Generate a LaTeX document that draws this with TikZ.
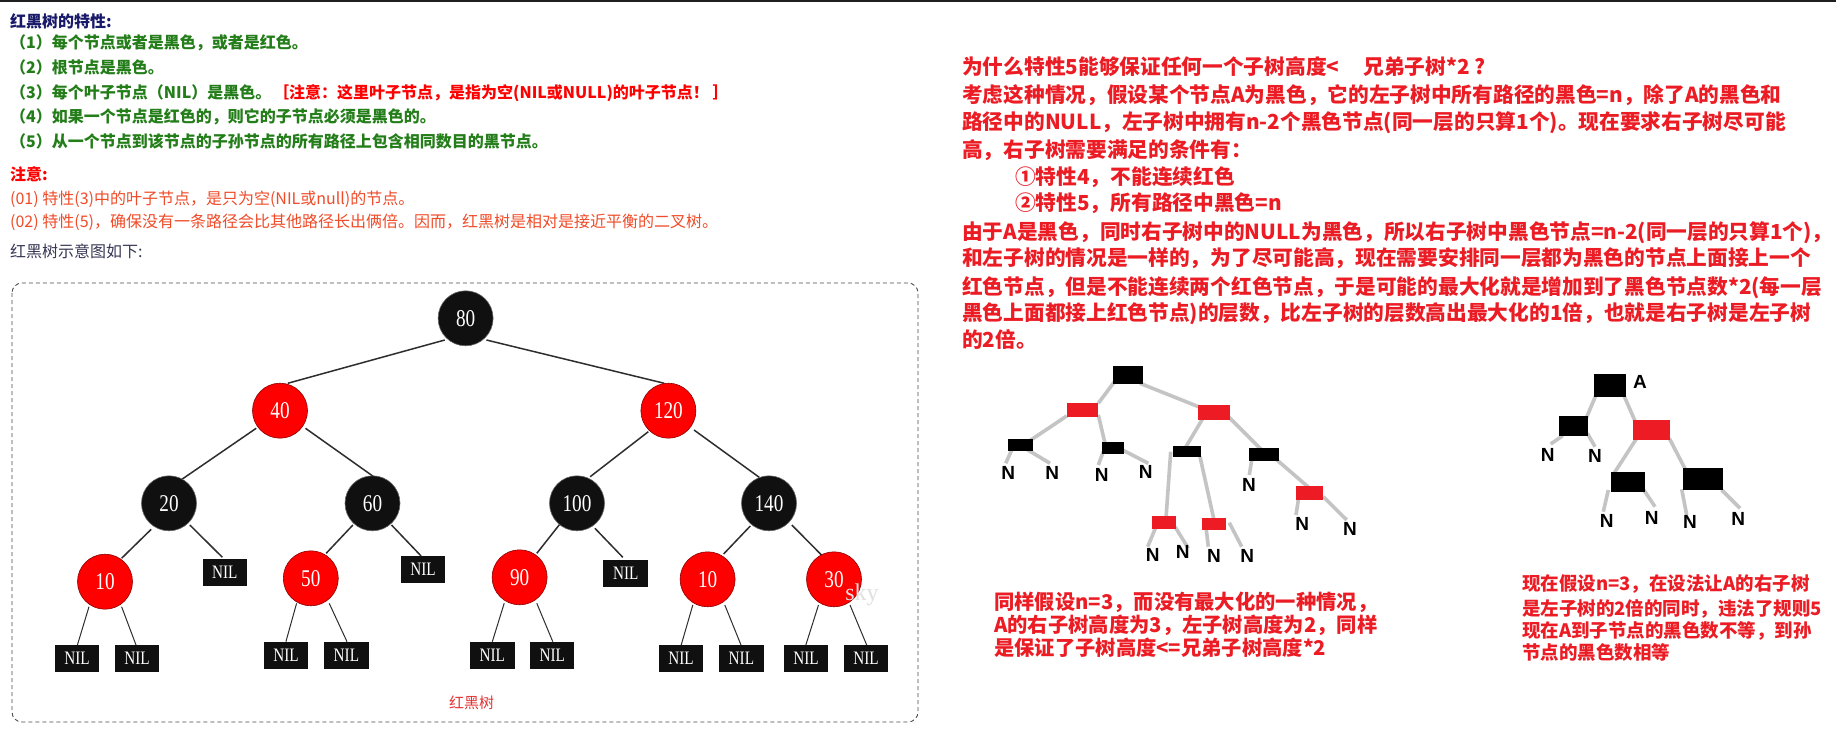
\documentclass[tikz,border=0pt]{standalone}
\usepackage{fontspec}
\usetikzlibrary{calc,backgrounds}
\newfontfamily\cjk{Noto Sans CJK SC}
\newfontfamily\serifnum{Liberation Serif}
\newfontfamily\arialf{Liberation Sans}
\definecolor{tnavy}{RGB}{25,25,105}
\definecolor{tgreen}{RGB}{35,125,25}
\definecolor{tred}{RGB}{255,0,0}
\definecolor{torange}{RGB}{240,75,40}
\definecolor{tgray}{RGB}{55,55,85}
\definecolor{rtred}{RGB}{235,28,36}
\definecolor{nodered}{RGB}{255,0,0}
\definecolor{nodeblack}{RGB}{16,16,16}
\definecolor{edgegray}{RGB}{196,196,196}
\definecolor{boxred}{RGB}{237,28,36}
\definecolor{labred}{RGB}{228,50,50}
\newcommand\sqz[1]{\scalebox{0.8}[1]{#1}}
\newcommand\ted[5][]{\draw[tedge,#1] ($(#2)+(#3)$) -- ($(#4)+(#5)$);}
\newcommand\ged[4]{\draw[gedge] ($(#1)+(#2)$) -- ($(#3)+(#4)$);}
\tikzset{
  ltxt/.style={anchor=base west, inner sep=0pt, font=\cjk\fontsize{16}{18}\selectfont},
  lbtxt/.style={anchor=base west, inner sep=0pt, font=\cjk\bfseries\fontsize{16}{18}\selectfont},
  rtxt/.style={anchor=base west, inner sep=0pt, text=rtred, font=\cjk\bfseries\fontsize{20.7}{24}\selectfont},
  bltxt/.style={anchor=base west, inner sep=0pt, text=rtred, font=\cjk\bfseries\fontsize{20.3}{24}\selectfont},
  brtxt/.style={anchor=base west, inner sep=0pt, text=rtred, font=\cjk\bfseries\fontsize{18.5}{22}\selectfont},
  rbc/.style={circle, minimum size=55pt, inner sep=0pt, text=white, font=\serifnum\fontsize{24}{24}\selectfont},
  rc/.style={rbc, fill=nodered, draw=red!55!black, line width=0.6pt},
  bc/.style={rbc, fill=nodeblack, draw=black!60, line width=0.6pt},
  nil/.style={rectangle, minimum width=44.5pt, minimum height=27pt, inner sep=0pt, fill=nodeblack, text=white, font=\serifnum\fontsize{19}{19}\selectfont},
  tedge/.style={draw=black!82, line width=1.5pt},
  thin/.style={line width=1pt},
  sbox/.style={rectangle, inner sep=0pt, fill=black},
  srbox/.style={rectangle, inner sep=0pt, fill=boxred},
  nlab/.style={inner sep=0pt, font=\arialf\bfseries\fontsize{19}{19}\selectfont},
  gedge/.style={draw=edgegray, line width=3.6pt},
}
\begin{document}
\begin{tikzpicture}[x=1pt,y=-1pt]
\useasboundingbox (0,0) rectangle (1836,751);
\begin{scope}[on background layer]
\fill[white] (0,0) rectangle (1836,751);
\end{scope}
\fill[black!88] (0,0) rectangle (1836,1.6);

% ---------- left texts ----------
\node[lbtxt, text=tnavy] (t0) at (10,27.4) {红黑树的特性:};
\node[lbtxt, text=tgreen] (t1) at (10,49) {（1）每个节点或者是黑色，或者是红色。};
\node[lbtxt, text=tgreen] (t2) at (10,74) {（2）根节点是黑色。};
\node[lbtxt, text=tgreen] (t3) at (10,99) {（3）每个叶子节点（NIL）是黑色。};
\node[lbtxt, text=tred] (t3b) at (273,99) {［注意：这里叶子节点，是指为空(NIL或NULL)的叶子节点！ ］};
\node[lbtxt, text=tgreen] (t4) at (10,122.4) {（4）如果一个节点是红色的，则它的子节点必须是黑色的。};
\node[lbtxt, text=tgreen] (t5) at (10,147.4) {（5）从一个节点到该节点的子孙节点的所有路径上包含相同数目的黑节点。};
\node[lbtxt, text=tred] (t6) at (10,180.6) {注意:};
\node[ltxt, text=torange] (t7) at (10,204.7) {(01) 特性(3)中的叶子节点，是只为空(NIL或null)的节点。};
\node[ltxt, text=torange] (t8) at (10,227.7) {(02) 特性(5)，确保没有一条路径会比其他路径长出俩倍。因而，红黑树是相对是接近平衡的二叉树。};
\node[ltxt, text=tgray] (t9) at (10,257.7) {红黑树示意图如下:};

% ---------- left tree ----------
\draw[black!70, dashed, dash pattern=on 4pt off 3pt, line width=0.9pt, rounded corners=10pt] (12,283) rectangle (918,722);
\node[bc] (c80) at (465.6,318.3) {\sqz{80}};
\node[rc] (c40) at (280,410.7) {\sqz{40}};
\node[rc] (c120) at (668.4,410.7) {\sqz{120}};
\node[bc] (c20) at (169,503.3) {\sqz{20}};
\node[bc] (c60) at (372.5,503.3) {\sqz{60}};
\node[bc] (c100) at (577,503.3) {\sqz{100}};
\node[bc] (c140) at (769,503.3) {\sqz{140}};
\node[rc] (c10) at (105,581.7) {\sqz{10}};
\node[nil] (nA) at (224.8,572.7) {\sqz{NIL}};
\node[rc] (c50) at (310.8,578.3) {\sqz{50}};
\node[nil] (nB) at (423,569) {\sqz{NIL}};
\node[rc] (c90) at (519.6,577.3) {\sqz{90}};
\node[nil] (nC) at (625.7,573.3) {\sqz{NIL}};
\node[rc] (c10b) at (707.6,579.3) {\sqz{10}};
\node[rc] (c30) at (834,579.3) {\sqz{30}};
\node[nil] (b1) at (77,658.3) {\sqz{NIL}};
\node[nil] (b2) at (137,658.3) {\sqz{NIL}};
\node[nil] (b3) at (286,655) {\sqz{NIL}};
\node[nil] (b4) at (346.4,655) {\sqz{NIL}};
\node[nil] (b5) at (492.3,655) {\sqz{NIL}};
\node[nil] (b6) at (552.2,655) {\sqz{NIL}};
\node[nil] (b7) at (681,658.3) {\sqz{NIL}};
\node[nil] (b8) at (741.4,658.3) {\sqz{NIL}};
\node[nil] (b9) at (806,658.3) {\sqz{NIL}};
\node[nil] (b10) at (866,658.3) {\sqz{NIL}};
\node[text=black!12, font=\serifnum\fontsize{24}{24}\selectfont, inner sep=0pt] (sky) at (862,595) {sky};
\node[text=labred, font=\cjk\fontsize{15}{18}\selectfont, inner sep=0pt] (lab) at (471.5,703.3) {红黑树};

\begin{scope}[on background layer]
\ted{c80}{-20.8,21.7}{c40}{7.7,-27.4}
\ted{c80}{20.8,21.7}{c120}{-4.1,-27.4}
\ted{c40}{-23.8,17.6}{c20}{11.9,-23.3}
\ted{c40}{25.5,17.6}{c60}{1.2,-26.6}
\ted{c120}{-20.1,21}{c100}{13.2,-26.6}
\ted{c120}{25.6,19.3}{c140}{-9.8,-26}
\ted{c20}{-17.8,26}{c10}{16.6,-23.4}
\ted{c20}{20.8,21.7}{nA}{-2.4,-15.4}
\ted{c60}{-19.6,21.7}{c50}{15.4,-25}
\ted{c60}{19,21.7}{nB}{-1.9,-13}
\ted{c100}{-16.5,20}{c90}{17.2,-24}
\ted{c100}{17.9,25}{nC}{-2.9,-16}
\ted{c140}{-18.7,22.7}{c10b}{16,-25.3}
\ted{c140}{22.8,21.7}{c30}{-12.5,-24.3}
\ted[thin]{c10}{-16,25}{b1}{0.1,-12.3}
\ted[thin]{c10}{16.6,25}{b2}{-0.6,-12.3}
\ted[thin]{c50}{-14.2,25}{b3}{-0.1,-13.3}
\ted[thin]{c50}{18.4,25}{b4}{0.6,-13.3}
\ted[thin]{c90}{-15.4,26}{b5}{0,-13.3}
\ted[thin]{c90}{17.2,26}{b6}{0.6,-13.3}
\ted[thin]{c10b}{-14.8,25.7}{b7}{-0.1,-12.3}
\ted[thin]{c10b}{17.2,25.7}{b8}{0,-12.3}
\ted[thin]{c30}{-15.5,25.7}{b9}{-0.5,-12.3}
\ted[thin]{c30}{16,25.7}{b10}{1.1,-12.3}
\end{scope}

% ---------- right texts ----------
\node[rtxt] (r1) at (962,74.3) {为什么特性5能够保证任何一个子树高度<\hspace{24pt}兄弟子树*2 ?};
\node[rtxt] (r2) at (962,102.6) {考虑这种情况，假设某个节点A为黑色，它的左子树中所有路径的黑色=n，除了A的黑色和};
\node[rtxt] (r3) at (962,129.3) {路径中的NULL，左子树中拥有n-2个黑色节点(同一层的只算1个)。现在要求右子树尽可能};
\node[rtxt] (r4) at (962,157.6) {高，右子树需要满足的条件有：};
\node[rtxt] (r5) at (1015,184.3) {①特性4，不能连续红色};
\node[rtxt] (r6) at (1015,210.6) {②特性5，所有路径中黑色=n};
\node[rtxt] (r7) at (962,239.3) {由于A是黑色，同时右子树中的NULL为黑色，所以右子树中黑色节点=n-2(同一层的只算1个)，};
\node[rtxt] (r8) at (962,265.9) {和左子树的情况是一样的，为了尽可能高，现在需要安排同一层都为黑色的节点上面接上一个};
\node[rtxt] (r9) at (962,294.3) {红色节点，但是不能连续两个红色节点，于是可能的最大化就是增加到了黑色节点数*2(每一层};
\node[rtxt] (r10) at (962,320.9) {黑色上面都接上红色节点)的层数，比左子树的层数高出最大化的1倍，也就是右子树是左子树};
\node[rtxt] (r11) at (962,347.6) {的2倍。};

% ---------- small tree 1 ----------
\node[sbox, minimum width=29.4pt, minimum height=18pt] (t1r) at (1128,375) {};
\node[srbox, minimum width=31.6pt, minimum height=13.4pt] (t1a) at (1082.5,410) {};
\node[srbox, minimum width=31.7pt, minimum height=15pt] (t1b) at (1214.2,412.5) {};
\node[sbox, minimum width=25pt, minimum height=11.7pt] (t1c) at (1020.2,445.2) {};
\node[sbox, minimum width=22pt, minimum height=12.3pt] (t1d) at (1113.3,447.8) {};
\node[sbox, minimum width=27.4pt, minimum height=11.3pt] (t1e) at (1187,451.7) {};
\node[sbox, minimum width=30.3pt, minimum height=12.4pt] (t1f) at (1263.8,454.5) {};
\node[srbox, minimum width=23.7pt, minimum height=13pt] (t1g) at (1163.8,522.5) {};
\node[srbox, minimum width=23.7pt, minimum height=12.3pt] (t1h) at (1213.8,523.8) {};
\node[srbox, minimum width=27.3pt, minimum height=14pt] (t1i) at (1309.7,493) {};
\node[nlab] (n1) at (1008.3,472.7) {N};
\node[nlab] (n2) at (1052.3,473.3) {N};
\node[nlab] (n3) at (1101.7,475.3) {N};
\node[nlab] (n4) at (1145.7,472) {N};
\node[nlab] (n5) at (1249,484.7) {N};
\node[nlab] (n6) at (1302.3,524) {N};
\node[nlab] (n7) at (1350,528.7) {N};
\node[nlab] (n8) at (1152.7,555) {N};
\node[nlab] (n9) at (1182.7,552) {N};
\node[nlab] (n10) at (1214,555.7) {N};
\node[nlab] (n11) at (1247.3,555.7) {N};
\begin{scope}[on background layer]
\ged{t1r}{-12.3,5}{t1a}{15.8,-6.7}
\ged{t1r}{12,8.3}{t1b}{-9.2,-3.2}
\ged{t1a}{-15.8,6}{t1c}{8.1,-3.5}
\ged{t1a}{15.8,5}{t1d}{-8.3,-4.5}
\ged{t1c}{-8.5,4.8}{n1}{-2.6,-9.4}
\ged{t1c}{6.5,4.1}{n2}{-2.3,-10}
\ged{t1d}{-10,3.9}{n3}{-3.4,-10.3}
\ged{t1d}{6,0.5}{n4}{2.6,-8.7}
\ged{t1b}{-9.9,3.5}{t1e}{-2,-3.4}
\ged{t1b}{12.5,2.5}{t1f}{-2.1,-4.5}
\ged{t1e}{-16.3,0}{t1g}{2.2,-4.2}
\ged{t1e}{13,5}{t1h}{0.2,-3.8}
\ged{t1f}{-12.1,5.5}{n5}{0.3,-9.7}
\ged{t1f}{11.2,3.8}{t1i}{2,-3}
\ged{t1i}{-11.4,7}{n6}{-6.3,-9}
\ged{t1i}{13.6,3.7}{n7}{-3.3,-8.7}
\ged{t1g}{-7.1,2.5}{n8}{-5,-8.3}
\ged{t1g}{11.2,4.2}{n9}{5.6,-3.7}
\ged{t1h}{-8.1,1.2}{n10}{-5.7,-9}
\ged{t1h}{15.5,-1.1}{n11}{-5.6,-9}
\end{scope}

% ---------- small tree 2 ----------
\node[sbox, minimum width=31.7pt, minimum height=22.4pt] (t2r) at (1609.8,385.5) {};
\node[nlab] (la) at (1640,381.7) {A};
\node[sbox, minimum width=29.3pt, minimum height=20.3pt] (t2a) at (1573.7,425.8) {};
\node[srbox, minimum width=37.3pt, minimum height=20pt] (t2b) at (1651.3,430) {};
\node[sbox, minimum width=34pt, minimum height=20pt] (t2c) at (1628,482.3) {};
\node[sbox, minimum width=40pt, minimum height=22.3pt] (t2d) at (1702.7,478.8) {};
\node[nlab] (m1) at (1547.7,455) {N};
\node[nlab] (m2) at (1595,456) {N};
\node[nlab] (m3) at (1606.7,520.7) {N};
\node[nlab] (m4) at (1651.7,518.3) {N};
\node[nlab] (m5) at (1690,522.3) {N};
\node[nlab] (m6) at (1738.3,519.3) {N};
\begin{scope}[on background layer]
\ged{t2r}{-13.8,9.5}{t2a}{11.3,-4.8}
\ged{t2r}{12.9,7.2}{t2b}{-15.3,-6.7}
\ged{t2a}{-11,9.9}{m1}{3,-11}
\ged{t2a}{13.6,7.5}{m2}{0,-9.3}
\ged{t2b}{-13.6,6.7}{t2c}{-15.7,-6.3}
\ged{t2b}{18,8.3}{t2d}{-17.4,-9.5}
\ged{t2c}{-19.7,7.7}{m3}{-3.4,-9}
\ged{t2c}{13.7,4.4}{m4}{3.3,-11.6}
\ged{t2d}{-21,10.5}{m5}{-3.3,-7.3}
\ged{t2d}{19,11.2}{m6}{1.7,-11}
\end{scope}

% ---------- bottom texts ----------
\node[bltxt] (q1) at (994,609.2) {同样假设n=3，而没有最大化的一种情况，};
\node[bltxt] (q2) at (994,632.5) {A的右子树高度为3，左子树高度为2，同样};
\node[bltxt] (q3) at (994,655.8) {是保证了子树高度<=兄弟子树高度*2};
\node[brtxt] (p1) at (1522,590.8) {现在假设n=3，在设法让A的右子树};
\node[brtxt] (p2) at (1522,615.1) {是左子树的2倍的同时，违法了规则5};
\node[brtxt] (p3) at (1522,637.6) {现在A到子节点的黑色数不等，到孙};
\node[brtxt] (p4) at (1522,659.3) {节点的黑色数相等};
\end{tikzpicture}
\end{document}
